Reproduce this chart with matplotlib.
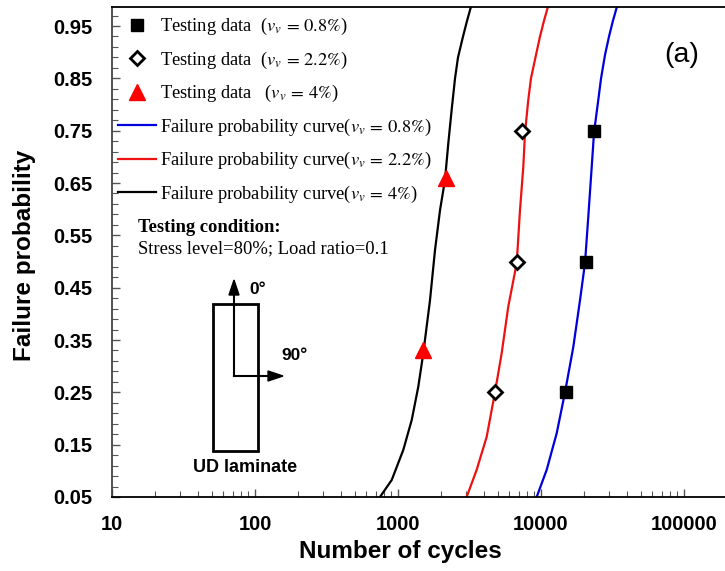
import numpy as np
import matplotlib
matplotlib.use("Agg")
import matplotlib.pyplot as plt
from matplotlib.ticker import FixedLocator, LogLocator, NullFormatter, FixedFormatter
from matplotlib.patches import Rectangle

plt.rcParams['mathtext.fontset'] = 'stix'

# ---- data ----
sq_cycles = [14960, 20650, 23500]          # v_v = 0.8 %
sq_prob = [0.25, 0.50, 0.75]
dia_cycles = [4760, 6790, 7360]            # v_v = 2.2 %
dia_prob = [0.25, 0.50, 0.75]
tri_cycles = [1500, 2160]                  # v_v = 4 %
tri_prob = [0.33, 0.66]

blue_cycles = [9330, 10960, 12880, 14720, 16830, 18740, 20310, 21420, 22630, 23480, 25160, 26300, 28040, 29900, 31850, 33980]
blue_prob = [0.05, 0.102, 0.172, 0.25, 0.337, 0.426, 0.497, 0.586, 0.681, 0.746, 0.809, 0.85, 0.895, 0.93, 0.96, 0.987]
red_cycles = [3020, 3550, 4170, 4767, 5311, 5906, 6763, 7130, 7520, 7730, 8150, 8510, 9230, 9840, 10490, 11190]
red_prob = [0.05, 0.102, 0.165, 0.25, 0.325, 0.414, 0.497, 0.598, 0.681, 0.746, 0.809, 0.85, 0.895, 0.93, 0.96, 0.987]
black_cycles = [748, 904, 1089, 1247, 1387, 1503, 1674, 1815, 1967, 2131, 2248, 2373, 2505, 2628, 2849, 3040, 3238]
black_prob = [0.05, 0.0825, 0.140, 0.197, 0.261, 0.325, 0.426, 0.522, 0.598, 0.656, 0.726, 0.790, 0.85, 0.89, 0.93, 0.96, 0.987]

x_ticks = [10, 100, 1000, 10000, 100000]
x_tick_labels = ["10", "100", "1000", "10000", "100000"]
y_ticks = [0.05, 0.15, 0.25, 0.35, 0.45, 0.55, 0.65, 0.75, 0.85, 0.95]
y_tick_labels = ["0.05", "0.15", "0.25", "0.35", "0.45", "0.55", "0.65", "0.75", "0.85", "0.95"]

labels = [r"Testing data  ($v_v\,=\,0.8\%$)",
          r"Testing data  ($v_v\,=\,2.2\%$)",
          r"Testing data   ($v_v\,=\,4\%$)",
          r"Failure probability curve($v_v\,=\,0.8\%$)",
          r"Failure probability curve($v_v\,=\,2.2\%$)",
          r"Failure probability curve($v_v\,=\,4\%$)"]

W, H = 725, 571
fig = plt.figure(figsize=(W / 100, H / 100), dpi=100)
ax = fig.add_axes([112 / W, (H - 497) / H, (W - 112) / W, (497 - 7) / H])

l_blue, = ax.plot(blue_cycles, blue_prob, color='#0000dd', lw=1.6, zorder=2)
l_red, = ax.plot(red_cycles, red_prob, color='#ee1111', lw=1.6, zorder=2)
l_black, = ax.plot(black_cycles, black_prob, color='black', lw=1.6, zorder=2)

h_sq, = ax.plot(sq_cycles, sq_prob, 's', color='black', ms=9, ls='none', zorder=3)
h_dia, = ax.plot(dia_cycles, dia_prob, 'D', mfc='white', mec='black', mew=2, ms=7.5, ls='none', zorder=3)
h_tri, = ax.plot(tri_cycles, tri_prob, '^', color='#ff0000', ms=11, ls='none', zorder=3)

ax.set_xscale('log')
ax.set_xlim(10, 10 ** (1 + (W - 112) / 143))
ax.set_ylim(0.05, 0.95 + 19 / 523.3)

ax.xaxis.set_major_locator(FixedLocator(x_ticks))
ax.xaxis.set_major_formatter(FixedFormatter(x_tick_labels))
ax.xaxis.set_minor_locator(LogLocator(base=10, subs=np.arange(2, 10)))
ax.xaxis.set_minor_formatter(NullFormatter())
ax.yaxis.set_major_locator(FixedLocator(y_ticks))
ax.yaxis.set_major_formatter(FixedFormatter(y_tick_labels))
ax.yaxis.set_minor_locator(FixedLocator(np.arange(0.05, 0.99, 0.02)))

ax.tick_params(which='both', direction='in', top=False, right=False, color='#555555')
ax.tick_params(which='major', length=6, width=1)
ax.tick_params(axis='x', which='major', pad=13)
ax.tick_params(axis='y', which='major', pad=14)
ax.tick_params(which='minor', length=4, width=0.8)
for lab in ax.get_xticklabels() + ax.get_yticklabels():
    lab.set_fontfamily('Liberation Sans')
    lab.set_fontweight('bold')
    lab.set_fontsize(14.5)

ax.spines['right'].set_visible(False)
ax.spines['left'].set_color('#444444')
for s in ['top', 'bottom']:
    ax.spines[s].set_color('black')
    ax.spines[s].set_linewidth(1.3)
ax.spines['left'].set_linewidth(1.3)

ax.set_xlabel("Number of cycles", fontfamily='Liberation Sans', fontweight='bold', fontsize=17.5)
ax.xaxis.set_label_coords((400 - 112) / (W - 112), -(540 - 497) / 490)
ax.set_ylabel("Failure probability", fontfamily='Liberation Sans', fontweight='bold', fontsize=17.5)
ax.yaxis.set_label_coords(-(112 - 36) / (W - 112), (497 - 255) / 490)

leg = ax.legend([h_sq, h_dia, h_tri, l_blue, l_red, l_black], labels,
                loc='upper left', bbox_to_anchor=(6 / 613, (497 - 16) / 490), frameon=False,
                prop={'family': 'Liberation Serif', 'size': 13.3},
                handlelength=2.05, handletextpad=0.2, labelspacing=0.67, borderaxespad=0, borderpad=0)

def fx(px):
    return px / W

def fy(py):
    return 1 - py / H

fig.text(fx(138), fy(227), "Testing condition:", fontfamily='Liberation Serif', fontweight='bold',
         fontsize=13.4, va='center', ha='left')
fig.text(fx(138), fy(249), "Stress level=80%; Load ratio=0.1", fontfamily='Liberation Serif',
         fontsize=13.4, va='center', ha='left')

# UD laminate schematic
fig.patches.append(Rectangle((fx(213), fy(451)), fx(258) - fx(213), fy(304) - fy(451),
                             transform=fig.transFigure, fill=False, ec='black', lw=2))
fig.add_artist(plt.Line2D([fx(234), fx(234)], [fy(376), fy(292)], transform=fig.transFigure, color='black', lw=1.5))
fig.add_artist(plt.Line2D([fx(234), fx(272)], [fy(376), fy(376)], transform=fig.transFigure, color='black', lw=1.5))
fig.patches.append(plt.Polygon([[fx(229), fy(295)], [fx(239), fy(295)], [fx(234), fy(280)]],
                               closed=True, transform=fig.transFigure, color='black'))
fig.patches.append(plt.Polygon([[fx(268), fy(371)], [fx(268), fy(381)], [fx(283), fy(376)]],
                               closed=True, transform=fig.transFigure, color='black'))
fig.text(fx(249), fy(289), "0°", fontfamily='Liberation Sans', fontweight='bold', fontsize=12.5,
         va='center', ha='left')
fig.text(fx(281), fy(356), "90°", fontfamily='Liberation Sans', fontweight='bold', fontsize=12.5,
         va='center', ha='left')
fig.text(fx(245), fy(468), "UD laminate", fontfamily='Liberation Sans', fontweight='bold', fontsize=13,
         va='center', ha='center')

fig.text(fx(682), fy(55), "(a)", fontfamily='Liberation Sans', fontsize=20.5, va='center', ha='center')

fig.savefig("out.png", dpi=100)
